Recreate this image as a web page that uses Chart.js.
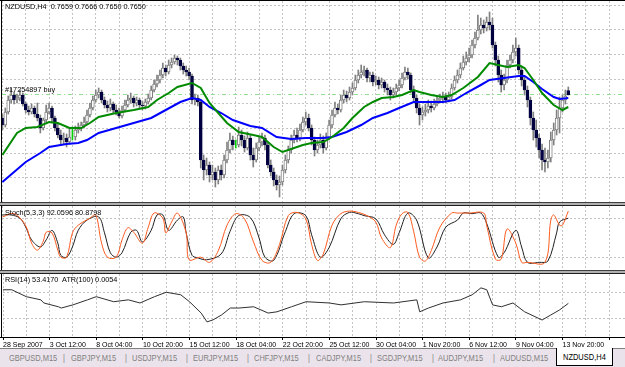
<!DOCTYPE html>
<html><head><meta charset="utf-8">
<script src="https://cdn.jsdelivr.net/npm/chart.js@4.4.0/dist/chart.umd.min.js"></script>
<style>
html,body{margin:0;padding:0;}
body{width:625px;height:367px;overflow:hidden;background:#fff;position:relative;font-family:'Liberation Sans',Arial,sans-serif;}
canvas{position:absolute;left:2px;}
.lbl{position:absolute;font-size:8px;line-height:8px;color:#000;white-space:pre;z-index:5;transform:scaleX(0.91);transform-origin:0 0;}
.sep{position:absolute;left:0;width:625px;height:4px;background:#b0b0b0;border-top:1px solid #404040;border-bottom:1px solid #202020;box-sizing:border-box;z-index:4;}
#tabs{position:absolute;left:0;top:348px;width:625px;height:19px;background:#ebe3eb;border-top:1px solid #808080;box-sizing:border-box;}
.tab{position:absolute;top:5px;font-size:8.5px;line-height:9px;color:#808080;white-space:pre;transform:scaleX(0.88);transform-origin:0 0;}
#act{position:absolute;left:556px;top:-1px;width:57px;height:18px;background:#fff;border:1px solid #000;border-top:none;box-sizing:border-box;}
#act span{position:absolute;left:6px;top:5px;font-size:8.5px;line-height:9px;color:#000;white-space:pre;transform:scaleX(0.88);transform-origin:0 0;}
</style></head><body>
<div style="position:absolute;left:0;top:0;width:625px;height:1px;background:#000;z-index:4"></div>
<div style="position:absolute;left:1px;top:0;width:1px;height:338px;background:#000;z-index:4"></div>
<canvas id="cMain" width="623" height="201" style="top:1px"></canvas>
<div class="sep" style="top:202px"></div>
<canvas id="cSto" width="623" height="64" style="top:206px"></canvas>
<div class="sep" style="top:270px"></div>
<canvas id="cRsi" width="623" height="74" style="top:274px"></canvas>
<div class="lbl" style="left:5px;top:3px">NZDUSD,H4  0.7659 0.7666 0.7650 0.7650</div>
<div class="lbl" style="left:5px;top:86px">#17254897 buy</div>
<div class="lbl" style="left:5px;top:209px">Stoch(5,3,3) 92.0596 80.8798</div>
<div class="lbl" style="left:5px;top:276px">RSI(14) 53.4170  ATR(100) 0.0054</div>
<div id="tabs">
<span class="tab" style="left:9px">GBPUSD,M15</span><span class="tab" style="left:63px">|</span>
<span class="tab" style="left:71px">GBPJPY,M15</span><span class="tab" style="left:125px">|</span>
<span class="tab" style="left:132px">USDJPY,M15</span><span class="tab" style="left:186px">|</span>
<span class="tab" style="left:193px">EURJPY,M15</span><span class="tab" style="left:247px">|</span>
<span class="tab" style="left:254px">CHFJPY,M15</span><span class="tab" style="left:308px">|</span>
<span class="tab" style="left:316px">CADJPY,M15</span><span class="tab" style="left:370px">|</span>
<span class="tab" style="left:377px">SGDJPY,M15</span><span class="tab" style="left:432px">|</span>
<span class="tab" style="left:438px">AUDJPY,M15</span><span class="tab" style="left:493px">|</span>
<span class="tab" style="left:500px">AUDUSD,M15</span>
<div id="act"><span>NZDUSD,H4</span></div>
</div>
<script>
// ---------- DATA (H4 bars, index 0 = 28 Sep 2007 20:00) ----------
const openP = [.7604,.7590,.7616,.7640,.7650,.7640,.7644,.7650,.7632,.7620,.7616,.7624,.7612,.7604,.7584,.7600,.7616,.7624,.7604,.7584,
.7570,.7560,.7564,.7556,.7566,.7566,.7580,.7584,.7590,.7596,.7610,.7624,.7640,.7650,.7656,.7640,.7630,.7624,.7632,.7620,
.7616,.7608,.7620,.7630,.7640,.7644,.7634,.7640,.7630,.7628,.7636,.7644,.7660,.7672,.7680,.7690,.7704,.7696,.7710,.7716,
.7724,.7720,.7708,.7700,.7696,.7688,.7640,.7644,.7636,.7520,.7500,.7510,.7490,.7496,.7480,.7500,.7490,.7520,.7540,.7560,
.7550,.7550,.7570,.7560,.7544,.7564,.7530,.7520,.7544,.7556,.7564,.7550,.7510,.7496,.7480,.7470,.7476,.7500,.7520,.7540,
.7560,.7570,.7564,.7580,.7596,.7604,.7584,.7560,.7540,.7550,.7560,.7544,.7564,.7590,.7610,.7624,.7620,.7640,.7650,.7644,
.7656,.7664,.7680,.7690,.7696,.7700,.7684,.7690,.7676,.7680,.7670,.7676,.7664,.7660,.7650,.7656,.7664,.7670,.7684,.7696,
.7690,.7660,.7644,.7624,.7610,.7616,.7620,.7628,.7624,.7632,.7640,.7644,.7648,.7640,.7646,.7664,.7680,.7690,.7704,.7716,
.7724,.7730,.7750,.7764,.7780,.7790,.7784,.7796,.7790,.7750,.7720,.7690,.7670,.7680,.7710,.7720,.7736,.7744,.7700,.7680,
.7660,.7640,.7604,.7580,.7564,.7540,.7520,.7516,.7524,.7560,.7580,.7604,.7624,.7640,.7659];
const highP = [.7612,.7624,.7648,.7664,.7656,.7652,.7660,.7654,.7636,.7628,.7632,.7628,.7634,.7610,.7604,.7630,.7634,.7628,.7608,.7592,
.7580,.7574,.7572,.7584,.7586,.7588,.7594,.7596,.7606,.7620,.7634,.7648,.7660,.7664,.7660,.7646,.7638,.7642,.7636,.7630,
.7624,.7628,.7640,.7650,.7654,.7648,.7646,.7644,.7638,.7642,.7652,.7668,.7680,.7690,.7700,.7714,.7710,.7720,.7724,.7730,
.7728,.7724,.7714,.7708,.7704,.7692,.7652,.7650,.7640,.7530,.7524,.7516,.7510,.7504,.7508,.7510,.7530,.7556,.7574,.7568,
.7560,.7586,.7580,.7568,.7576,.7570,.7544,.7554,.7566,.7574,.7570,.7556,.7520,.7504,.7490,.7488,.7510,.7530,.7548,.7570,
.7580,.7584,.7592,.7606,.7616,.7612,.7590,.7566,.7560,.7572,.7568,.7574,.7600,.7620,.7636,.7632,.7650,.7660,.7658,.7666,
.7674,.7690,.7700,.7710,.7708,.7704,.7696,.7696,.7688,.7686,.7684,.7680,.7672,.7666,.7664,.7672,.7680,.7694,.7706,.7704,
.7694,.7668,.7650,.7632,.7626,.7632,.7640,.7638,.7642,.7648,.7652,.7656,.7654,.7656,.7672,.7688,.7700,.7714,.7728,.7736,
.7744,.7760,.7776,.7810,.7804,.7800,.7806,.7816,.7804,.7756,.7728,.7700,.7692,.7720,.7730,.7750,.7764,.7750,.7708,.7688,
.7668,.7646,.7616,.7600,.7572,.7552,.7544,.7540,.7576,.7594,.7620,.7646,.7650,.7660,.7666];
const lowP = [.7580,.7586,.7612,.7634,.7632,.7634,.7638,.7628,.7614,.7610,.7612,.7606,.7598,.7574,.7580,.7596,.7612,.7594,.7578,.7564,
.7550,.7552,.7546,.7552,.7560,.7560,.7574,.7578,.7584,.7592,.7606,.7620,.7636,.7644,.7634,.7624,.7616,.7618,.7614,.7610,
.7604,.7604,.7616,.7626,.7634,.7626,.7628,.7622,.7620,.7622,.7632,.7640,.7656,.7666,.7674,.7684,.7688,.7692,.7704,.7712,
.7710,.7700,.7692,.7688,.7680,.7632,.7630,.7628,.7504,.7480,.7490,.7476,.7480,.7466,.7472,.7480,.7484,.7514,.7534,.7540,
.7544,.7546,.7548,.7536,.7540,.7520,.7506,.7516,.7538,.7548,.7540,.7504,.7488,.7468,.7460,.7446,.7470,.7494,.7514,.7534,
.7554,.7556,.7558,.7576,.7590,.7578,.7550,.7528,.7534,.7544,.7534,.7540,.7560,.7584,.7606,.7612,.7616,.7634,.7636,.7640,
.7650,.7660,.7674,.7684,.7688,.7676,.7676,.7668,.7670,.7662,.7664,.7656,.7650,.7640,.7644,.7650,.7658,.7664,.7680,.7682,
.7654,.7636,.7614,.7590,.7600,.7608,.7614,.7616,.7620,.7628,.7634,.7638,.7634,.7636,.7642,.7660,.7674,.7684,.7700,.7710,
.7716,.7724,.7744,.7760,.7772,.7774,.7778,.7780,.7744,.7708,.7676,.7656,.7660,.7674,.7704,.7714,.7728,.7692,.7668,.7650,
.7626,.7590,.7560,.7546,.7524,.7500,.7496,.7504,.7516,.7550,.7570,.7574,.7616,.7632,.7650];
const closeP = [.7590,.7616,.7640,.7650,.7640,.7644,.7650,.7632,.7620,.7616,.7624,.7612,.7604,.7584,.7600,.7616,.7624,.7604,.7584,.7570,
.7560,.7564,.7556,.7566,.7566,.7580,.7584,.7590,.7596,.7610,.7624,.7640,.7650,.7656,.7640,.7630,.7624,.7632,.7620,.7616,
.7608,.7620,.7630,.7640,.7644,.7634,.7640,.7630,.7628,.7636,.7644,.7660,.7672,.7680,.7690,.7704,.7696,.7710,.7716,.7724,
.7720,.7708,.7700,.7696,.7688,.7640,.7644,.7636,.7520,.7500,.7510,.7490,.7496,.7480,.7500,.7490,.7520,.7540,.7560,.7550,
.7550,.7570,.7560,.7544,.7564,.7530,.7520,.7544,.7556,.7564,.7550,.7510,.7496,.7480,.7470,.7476,.7500,.7520,.7540,.7560,
.7570,.7564,.7580,.7596,.7604,.7584,.7560,.7540,.7550,.7560,.7544,.7564,.7590,.7610,.7624,.7620,.7640,.7650,.7644,.7656,
.7664,.7680,.7690,.7696,.7700,.7684,.7690,.7676,.7680,.7670,.7676,.7664,.7660,.7650,.7656,.7664,.7670,.7684,.7696,.7690,
.7660,.7644,.7624,.7610,.7616,.7620,.7628,.7624,.7632,.7640,.7644,.7648,.7640,.7646,.7664,.7680,.7690,.7704,.7716,.7724,
.7730,.7750,.7764,.7780,.7790,.7784,.7796,.7790,.7750,.7720,.7690,.7670,.7680,.7710,.7720,.7736,.7744,.7700,.7680,.7660,
.7640,.7604,.7580,.7564,.7540,.7520,.7516,.7524,.7560,.7580,.7604,.7624,.7640,.7648,.7650];
// moving averages read at sample bars [bar, price]
const maGreen = [[0,.7530],[5,.7574],[8,.7584],[12,.7586],[16,.7596],[19,.7594],[23,.7584],[27,.7584],[30,.7594],[33,.7606],[39,.7614],[45,.7620],[50,.7626],[53,.7640],[57,.7654],[60,.7666],[65,.7674],[68,.7664],[71,.7634],[74,.7614],[77,.7594],[81,.7576],[86,.7570],[89,.7566],[93,.7546],[96,.7536],[100,.7544],[103,.7550],[106,.7554],[110,.7556],[113,.7566],[117,.7584],[120,.7604],[124,.7626],[127,.7636],[130,.7644],[134,.7646],[137,.7650],[141,.7660],[143,.7656],[147,.7650],[151,.7646],[154,.7650],[158,.7664],[163,.7686],[167,.7714],[170,.7710],[173,.7706],[177,.7710],[179,.7704],[182,.7680],[185,.7654],[189,.7630],[192,.7620],[194,.7626]];
const maBlue = [[0,.7476],[4,.7496],[8,.7516],[13,.7534],[16,.7546],[22,.7552],[26,.7554],[29,.7560],[33,.7574],[39,.7584],[45,.7594],[51,.7604],[56,.7620],[61,.7636],[65,.7644],[68,.7640],[71,.7626],[75,.7614],[79,.7600],[85,.7588],[89,.7584],[94,.7566],[99,.7562],[104,.7564],[110,.7564],[113,.7566],[118,.7576],[123,.7590],[127,.7604],[132,.7614],[136,.7624],[141,.7636],[146,.7636],[151,.7636],[155,.7640],[159,.7654],[164,.7670],[167,.7680],[172,.7684],[177,.7688],[179,.7688],[182,.7676],[185,.7662],[189,.7646],[191,.7642],[194,.7644]];
const buyPrice = 0.7651;
// stochastic (5,3,3): main (orange) and signal (black) [bar, value]
const stoMain = [[0,83],[4,88],[8,69],[10,42],[12,31],[14,45],[15,59],[17,58],[19,31],[20,20],[22,20],[24,58],[26,70],[30,81],[32,86],[34,42],[36,20],[39,20],[41,47],[43,66],[45,59],[48,42],[50,67],[52,89],[55,81],[56,58],[58,75],[60,89],[63,58],[64,16],[68,20],[71,12],[74,30],[77,70],[80,88],[83,80],[86,45],[89,15],[92,12],[95,40],[98,85],[101,90],[104,80],[106,40],[108,15],[110,25],[113,70],[116,88],[119,92],[122,90],[125,85],[128,75],[130,50],[133,35],[135,70],[137,88],[139,90],[141,60],[143,20],[145,14],[147,30],[150,67],[154,89],[156,89],[160,89],[165,89],[166,70],[169,17],[171,17],[173,64],[176,42],[178,12],[180,12],[186,12],[188,78],[189,86],[191,70],[192,70],[194,92]];
const stoSig = [[0,86],[3,86],[6,81],[8,67],[10,47],[13,36],[15,47],[17,62],[19,42],[20,23],[22,20],[24,36],[26,62],[29,78],[33,83],[35,58],[37,27],[39,20],[41,27],[44,59],[46,62],[48,44],[51,62],[53,86],[55,86],[57,62],[60,78],[62,83],[63,58],[65,23],[67,19],[70,16],[75,25],[78,60],[81,85],[85,82],[88,50],[90,20],[93,15],[97,60],[100,88],[104,85],[106,55],[109,20],[112,35],[116,80],[119,90],[122,88],[124,85],[128,80],[131,55],[134,40],[136,58],[139,89],[142,78],[146,19],[149,36],[152,67],[156,78],[158,89],[161,88],[164,89],[166,73],[170,20],[172,27],[176,62],[178,36],[180,12],[184,12],[187,14],[190,58],[191,75],[194,81]];
// RSI(14) [bar, value]
const rsi = [[0,75],[3,75],[8,64],[13,59],[14,54],[19,48],[20,46],[24,51],[29,59],[32,64],[38,56],[43,59],[47,54],[52,64],[56,71],[61,67],[64,56],[68,38],[70,24],[72,27],[75,35],[78,46],[81,46],[86,48],[91,38],[94,40],[99,48],[104,56],[112,54],[116,51],[124,56],[134,54],[142,59],[143,40],[146,46],[151,54],[157,59],[161,67],[164,78],[166,75],[168,51],[171,48],[175,54],[179,40],[185,27],[188,35],[191,43],[194,53.4]];
// time axis labels, one every 16 bars
const timeLabels = ['28 Sep 2007','3 Oct 12:00','8 Oct 04:00','10 Oct 20:00','15 Oct 12:00','18 Oct 04:00','22 Oct 20:00','25 Oct 12:00','30 Oct 04:00','1 Nov 20:00','6 Nov 12:00','9 Nov 04:00','13 Nov 20:00'];

// ---------- CHARTS ----------
const X_MIN = -0.14, X_MAX = 213.44;
const GRID = '#c4c4c4';
const FONT = "'Liberation Sans',Arial,sans-serif";
const vTicks = []; for (let v = 0; v <= 208; v += 8) vTicks.push({value: v});
function xAxis(showLabels){
  return {type:'linear', min:X_MIN, max:X_MAX, offset:false,
    grid:{color:GRID, offset:false, drawTicks:showLabels, tickLength:3,
      tickColor:(c)=> (c.index % 2 === 0 ? '#000' : 'rgba(0,0,0,0)')},
    border:{display:false, dash:[2,2]},
    ticks:{display:showLabels, autoSkip:false, maxRotation:0, minRotation:0, align:'start', padding:1,
      color:'#000', font:{family:FONT, size:7},
      callback:(v,i)=> (i % 2 === 0 && timeLabels[i/2]) ? timeLabels[i/2] : ''},
    afterBuildTicks:(s)=>{ s.ticks = vTicks.map(t=>({value:t.value})); },
    afterFit:(s)=>{ s.height = showLabels ? 11 : 0; }
  };
}
function yAxis(min, max, ticks){
  return {type:'linear', min:min, max:max, grid:{color:GRID, drawTicks:false}, border:{display:false, dash:[2,2]},
    ticks:{display:false}, afterBuildTicks:(s)=>{ s.ticks = ticks.map(v=>({value:v})); }, afterFit:(s)=>{ s.width = 0; }};
}
const common = {animation:false, responsive:false, devicePixelRatio:1, events:[], layout:{padding:0},
  plugins:{legend:{display:false}, tooltip:{enabled:false}}};
const pts = (arr)=> arr.map(p=>({x:p[0], y:p[1]}));
const idx = closeP.map((_,i)=>i);

// main price pane
const P_MIN = 0.7436, P_MAX = 0.7838;
const priceGrid = []; for (let k = 0; k < 8; k++) priceGrid.push(0.7830 - k*0.00494);
new Chart(document.getElementById('cMain'), {
  type:'line',
  data:{datasets:[
    {type:'line', data:pts(maGreen), borderColor:'#008a00', borderWidth:2, pointRadius:0, tension:0, order:0},
    {type:'line', data:pts(maBlue), borderColor:'#0000ff', borderWidth:2, pointRadius:0, tension:0, order:1},
    {type:'bar', data:idx.map(i=>({x:i, y:[openP[i], closeP[i]]})), grouped:false, barThickness:3, borderWidth:1, borderSkipped:false,
      backgroundColor: idx.map(i=> closeP[i] < openP[i] ? '#000040' : '#ffffff'),
      borderColor: idx.map(i=> closeP[i] < openP[i] ? '#000040' : (closeP[i] === openP[i] ? '#00d000' : '#808080')), order:2},
    {type:'bar', data:idx.map(i=>({x:i, y:[lowP[i], highP[i]]})), grouped:false, barThickness:1, borderWidth:0,
      backgroundColor: idx.map(i=> closeP[i] === openP[i] ? '#00d000' : '#808080'), order:3},
    {type:'line', data:[{x:X_MIN,y:buyPrice},{x:X_MAX,y:buyPrice}], borderColor:'#90e090', borderWidth:1, borderDash:[4,3,1,3], pointRadius:0, order:4}
  ]},
  options:Object.assign({}, common, {scales:{x:xAxis(false), y:yAxis(P_MIN, P_MAX, priceGrid)}})
});

// stochastic pane
new Chart(document.getElementById('cSto'), {
  type:'line',
  data:{datasets:[
    {data:pts(stoMain), borderColor:'#ff5a1e', borderWidth:1, pointRadius:0, tension:0.35},
    {data:pts(stoSig), borderColor:'#202020', borderWidth:1, pointRadius:0, tension:0.35}
  ]},
  options:Object.assign({}, common, {scales:{x:xAxis(false), y:yAxis(0, 100, [20, 80])}})
});

// RSI / ATR pane with time axis
new Chart(document.getElementById('cRsi'), {
  type:'line',
  data:{datasets:[
    {data:pts(rsi), borderColor:'#303030', borderWidth:1, pointRadius:0, tension:0}
  ]},
  options:Object.assign({}, common, {scales:{x:xAxis(true), y:yAxis(0, 100, [30, 70])}})
});
</script>
<div style="position:absolute;left:0;top:337px;width:625px;height:1px;background:#000;z-index:4"></div>
</body></html>
